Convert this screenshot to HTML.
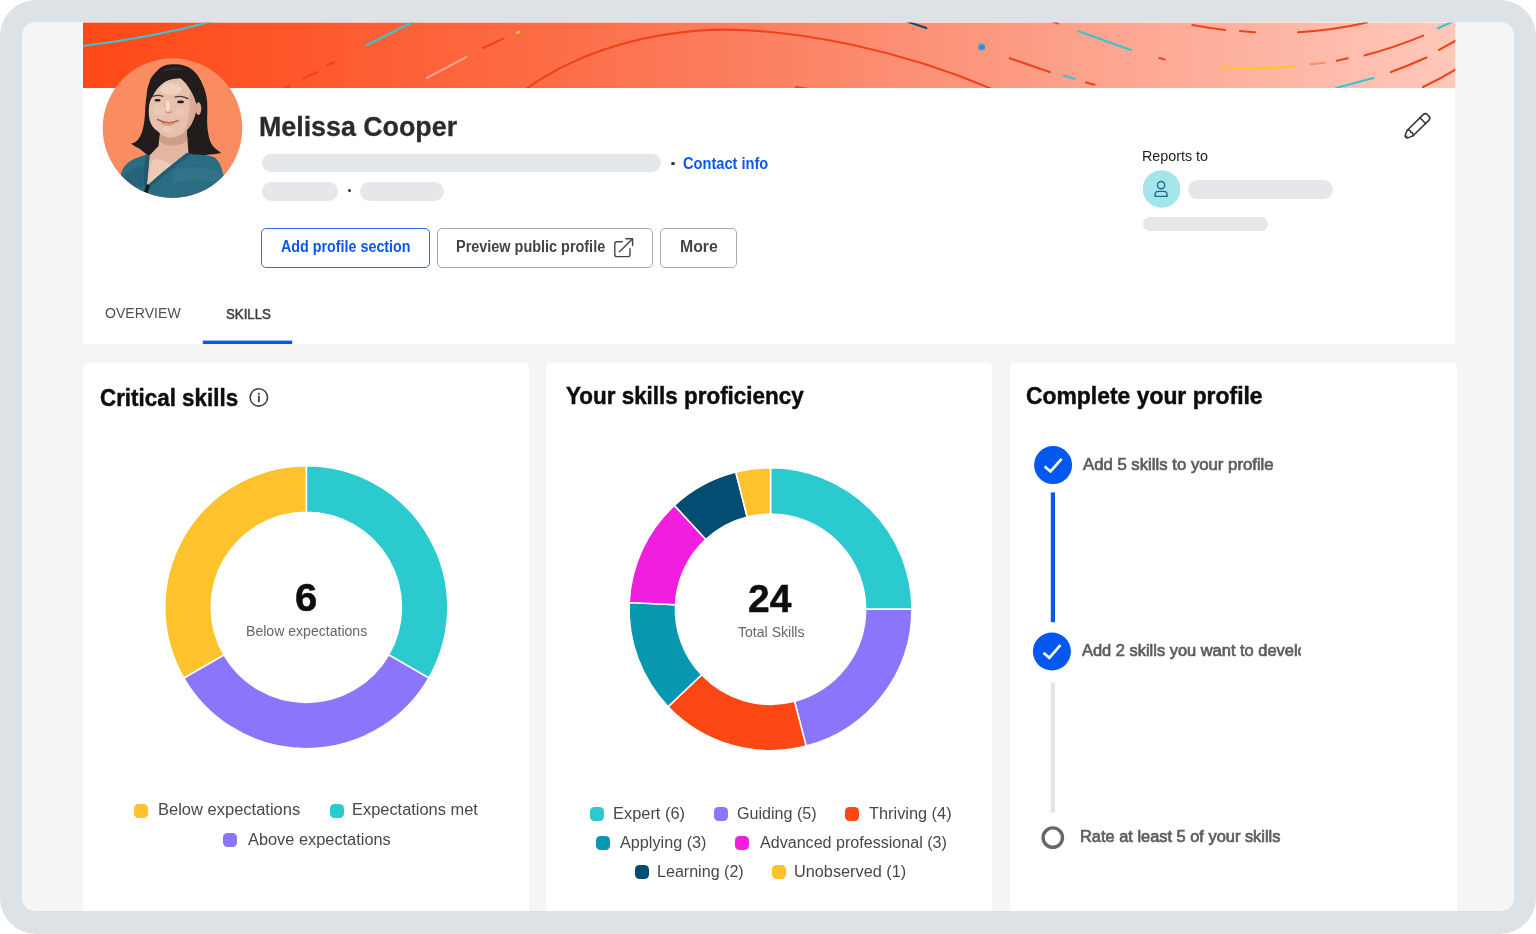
<!DOCTYPE html>
<html lang="en">
<head>
<meta charset="utf-8">
<title>Melissa Cooper – Skills profile</title>
<style>
html,body{margin:0;padding:0;background:#ffffff;}
body{width:1536px;height:934px;position:relative;overflow:hidden;font-family:"Liberation Sans",Arial,sans-serif;}
#frame{position:absolute;left:0;top:0;width:1536px;height:934px;background:#dde2e6;border-radius:36px;}
#screen{position:absolute;left:22px;top:22px;width:1492px;height:889px;background:#f5f5f5;border-radius:13px;overflow:hidden;}
.card{position:absolute;background:#ffffff;}
#head{left:83px;top:22px;width:1372.300px;height:322.300px;border-radius:0 0 4px 4px;}
#c1{left:83px;top:362.900px;width:446.300px;height:560px;border-radius:4.500px;}
#c2{left:546.300px;top:362.900px;width:446.200px;height:560px;border-radius:4.500px;}
#c3{left:1009.500px;top:362.900px;width:447.100px;height:560px;border-radius:4.500px;}
#clip{position:absolute;left:0;top:0;width:1536px;height:911px;overflow:hidden;}
.abs{position:absolute;}
.sk{position:absolute;background:#e6e7ea;border-radius:10px;}
.t{position:absolute;white-space:nowrap;line-height:1;transform-origin:0 0;}
.btn{position:absolute;box-sizing:border-box;top:228px;height:39.5px;border:1px solid #a9a9a9;border-radius:5px;background:transparent;}
.mk{position:absolute;width:14px;height:14px;border-radius:4.5px;}
.dot{position:absolute;width:3px;height:3px;border-radius:50%;background:#333;}
svg{position:absolute;left:0;top:0;overflow:visible;}
</style>
</head>
<body>
<div id="frame"></div>
<div id="screen"></div>
<div id="clip">
<div class="card" id="head"></div>
<div class="card" id="c1"></div>
<div class="card" id="c2"></div>
<div class="card" id="c3"></div>

<!-- banner -->
<svg id="banner" width="1536" height="934" viewBox="0 0 1536 934">
<defs>
<linearGradient id="bg" x1="83" y1="0" x2="1456" y2="0" gradientUnits="userSpaceOnUse">
<stop offset="0" stop-color="#ff4816"/>
<stop offset="0.25" stop-color="#fd6238"/>
<stop offset="0.5" stop-color="#fb8162"/>
<stop offset="0.75" stop-color="#fda590"/>
<stop offset="1" stop-color="#ffc8ba"/>
</linearGradient>
<clipPath id="bclip"><rect x="83" y="22.600" width="1372.300" height="65.400"/></clipPath>
<clipPath id="avclip"><circle cx="172.500" cy="128.100" r="69.800"/></clipPath>
<filter id="soft" x="-5%" y="-5%" width="110%" height="110%"><feGaussianBlur stdDeviation="0.700"/></filter>
</defs>
<rect x="83" y="22.600" width="1372.300" height="65.400" fill="url(#bg)"/>
<g clip-path="url(#bclip)" fill="none" stroke-linecap="round">
<g stroke="#38c4d2" stroke-width="2.1">
<path d="M81,46.3 Q150,38 214,21"/>
<path d="M366.6,45 L413,22"/>
<path d="M1077.9,31 L1131,49.9"/>
<path d="M1063.6,75.4 L1074.5,78.7"/>
<path d="M1438,28.3 L1453,21.5"/>
<path d="M1336,88 L1373.4,78"/>
</g>
<g stroke="#f0431a" stroke-width="2.1">
<path d="M303,78.5 L318,72"/>
<path d="M327,65.3 L334,62.3"/>
<path d="M482.8,48 L503.8,38.4"/>
<path d="M285,88 L290,86"/>
<path d="M526,89 C578,52 650,30 725,29.6 C800,30 900,50 992,89"/>
<path d="M796,87 L806,88.5"/>
<path d="M1009.8,58.2 L1049.6,72.1"/>
<path d="M1086,82.4 L1094.5,84.7"/>
<path d="M1159.5,58 L1164.5,59.5"/>
<path d="M1052,21.5 L1058,23.5"/>
<path d="M1192.4,25 Q1209,28 1225,30"/>
<path d="M1240,31 L1254.8,32.3"/>
<path d="M1298,32.3 Q1335,30 1367,22.5"/>
<path d="M1336.9,60.8 L1347.8,58.2"/>
<path d="M1364.4,55.5 Q1396,47 1423.2,35.6"/>
<path d="M1439,49.9 L1456,40.5"/>
<path d="M1391,72.1 Q1410,65 1426.5,57.5"/>
<path d="M1423,87 Q1442,78 1458,68"/>
</g>
<path d="M426.8,78 L466.3,57" stroke="#ff9f88" stroke-width="2.2"/>
<path d="M1310.3,64.1 L1324.6,62.8" stroke="#ff8f73" stroke-width="2.1"/>
<path d="M517,33 L519.5,31.8" stroke="#ffc42d" stroke-width="2.2"/>
<path d="M1220.6,67.5 Q1258,69.5 1294.7,66.3" stroke="#ffc42d" stroke-width="2.2"/>
<path d="M907,21.5 L926.4,28" stroke="#0a4a6e" stroke-width="2"/>
<circle cx="1169" cy="22.6" r="2" fill="#ffb4a2" stroke="none"/>
<circle cx="981.7" cy="47" r="3.6" fill="#2ba8c8" stroke="none"/>
<circle cx="981.7" cy="47.2" r="1.9" fill="#5b6cf0" stroke="none"/>
</g>

<!-- avatar -->
<circle cx="172.500" cy="128.100" r="69.800" fill="#f98c60"/>
<g clip-path="url(#avclip)" filter="url(#soft)">
<!-- hair back -->
<path d="M174.500,64.300 C166,63.500 160,67 157.400,70.500 C153,74.500 150.500,78 149.700,81.400 C147.500,86 147,91 146.600,95.400 C145.500,102 145.300,108 145,114 C144.500,120 144,125 142.700,129.500 C141.500,134 140,137.500 137.300,140.400 C135.500,142 133.500,143 131,143.500 C133.500,145.500 136,147 138.800,148.200 C141.500,150 144,152 146.600,154.400 L160,162 L193.200,158 L208.700,154.400 C213,154.600 217,154 221.100,152.800 C218,151 215.500,149 213.300,146.600 C211,143.500 209.500,140 208.700,135.700 C207.500,130.500 207.200,125 207.100,120.200 C207.300,114 207.500,108 207.100,101.600 C206.500,95 205,89.500 202.500,84.500 C200.500,79 197.500,74.500 193.200,70.500 C188,66 181.500,64.300 174.500,64.300 Z" fill="#201d1e"/>
<!-- neck and chest -->
<path d="M160.500,128 L186.500,128 L188.500,153 L170,168 L150,187 L146.200,185 L149,156 L158.500,146 Z" fill="#e2b6a2"/>
<path d="M160.500,133 C166,139.500 178,139 186.500,130 L187.500,141 C178,147 167,147 160,142 Z" fill="#cf9d88"/>
<path d="M152,160 C158,158 166,160 172,166 L150,187 L146.200,185 Z" fill="#edc9b8"/>
<!-- shirt -->
<path d="M146.600,154.400 C141,156 136,158 131,160.600 C126.500,163.500 123.500,167 121.700,171.400 L112,205 L236,205 L222.700,173 C221.500,166 219,161 214.900,157.500 C211,155.500 202,154.500 193.200,154.400 L187,152.800 C178,160 160,174 146.800,186 L149.500,156 Z" fill="#2b6d83"/>
<path d="M187,152.800 C178,160 160,174 146.800,186 L148.500,189 C162,177 180,163 191,154.500 Z" fill="#235b6f"/>
<path d="M146.600,154.400 L149.500,156 L146.800,186 L144,186 C143,176 143.500,164 146.600,154.400 Z" fill="#225a6d"/>
<path d="M175,170 C190,166 205,166 219,172 L224,186 C208,178 190,178 172,184 Z" fill="#34798f" opacity="0.550"/>
<path d="M124,176 C130,170 137,166 143,165 L143,186 C136,186 129,188 122,192 Z" fill="#245e73" opacity="0.600"/>
<path d="M146.800,184 L143.800,192.500 L147.600,193 L149.800,185.500 Z" fill="#14151a"/>
<!-- face -->
<path d="M180.700,78.300 C174,78 169,79.500 165.200,81.400 C159.500,85 155.500,90 152.800,95.400 C150.500,99 149.300,102.500 148.900,106.200 C148.500,111 148.800,115.500 149.700,120.200 C151,125 153.500,128.500 157.400,131 C160.500,134 164,136.500 168.300,137.300 C174,137.800 179.500,135.800 183.800,132.600 C188,129.500 191.200,125.500 193.200,120.200 C195,116.500 196,112.500 196.300,107.800 C196.500,105 196.200,103 195.500,101.600 C194.500,97 192.500,93 190,89.200 C187.500,85 184.500,81.500 180.700,78.300 Z" fill="#e8c0ae"/>
<ellipse cx="198.400" cy="108.600" rx="2.900" ry="6.300" fill="#dcab96"/>
<!-- face shading / highlights -->
<path d="M190,89.200 C192.500,93 194.500,97 195.500,101.600 C196.200,103 196.500,105 196.300,107.800 C196,112.500 195,116.500 193.200,120.200 C191.200,125.500 188,129.500 183.800,132.600 C187,125 189.500,116 189.500,106 C189.500,99 189.800,94 190,89.200 Z" fill="#d4a08b" opacity="0.650"/>
<ellipse cx="171" cy="89" rx="11" ry="6" fill="#f4dacd" opacity="0.600"/>
<ellipse cx="159.500" cy="110.500" rx="6" ry="5" fill="#f1d2c4" opacity="0.450"/>
<ellipse cx="180.500" cy="112" rx="5.500" ry="4.500" fill="#f0cfc0" opacity="0.400"/>
<ellipse cx="167.800" cy="106" rx="2" ry="6" fill="#f7e3da" opacity="0.800"/>
<ellipse cx="167.500" cy="129.500" rx="5" ry="3" fill="#f0d0c2" opacity="0.600"/>
<!-- features -->
<ellipse cx="157.600" cy="100.300" rx="3.100" ry="1.300" fill="#2b1e1c"/>
<ellipse cx="180.600" cy="101.900" rx="3.400" ry="1.400" fill="#2b1e1c"/>
<path d="M152.800,96.500 Q157.500,94.300 162.800,96.300" stroke="#4d3832" stroke-width="1.300" fill="none" stroke-linecap="round"/>
<path d="M175,97 Q181,95.100 188,98.600" stroke="#4d3832" stroke-width="1.300" fill="none" stroke-linecap="round"/>
<path d="M165.800,111.600 Q168.300,113.600 171.400,111.800" stroke="#c48f7b" stroke-width="1.200" fill="none" stroke-linecap="round"/>
<path d="M157.600,119.600 Q167,125.200 178,120.800" stroke="#c2604c" stroke-width="1.700" fill="none" stroke-linecap="round"/>
<path d="M161.500,123.200 Q167.500,126.400 174,123.400" stroke="#d98873" stroke-width="1.300" fill="none" stroke-linecap="round"/>
<!-- hair front strands -->
<path d="M180.700,78.300 C174,78 169,79.500 165.200,81.400 C159.500,85 155.500,90 152.800,95.400 C150.500,99 149.300,102.500 148.900,106.200 L147.500,112 C147,100 148,88 153,80 C158,73 166,70 176,71 C184,72 190,76 194,82 C197,87 198,93 198.500,100 L195.500,101.600 C194.500,97 192.500,93 190,89.200 C187.500,85 184.500,81.500 180.700,78.300 Z" fill="#201d1e"/>
<path d="M163,70 C170,66.500 180,66.500 188,70.500 C180,69 170,69 163,72 Z" fill="#3a3536" opacity="0.700"/>
</g>

<!-- tab underline -->
<rect x="202.800" y="340.600" width="89.400" height="3.400" fill="#0557f0"/>

<!-- pencil icon -->
<g transform="translate(1405.400,137.600) rotate(-44.300)" fill="none" stroke="#333333" stroke-width="1.500" stroke-linejoin="round" stroke-linecap="round">
<path d="M0.600,0 Q0.200,-1.200 1.600,-1.900 L6.500,-4 L28.800,-4 Q31.800,-4 31.800,-1 L31.800,1 Q31.800,4 28.800,4 L6.500,4 L1.600,1.900 Q0.200,1.200 0.600,0 Z"/>
<path d="M6.500,-4 Q9.500,-2 7.500,0 Q9.500,2 6.500,4"/>
<path d="M24.300,-4 L24.300,4"/>
<path d="M0.800,-0.800 L2.400,0 L0.800,0.800 Z" fill="#333" stroke-width="1"/>
</g>

<!-- external link icon -->
<g fill="none" stroke="#444444" stroke-width="1.400" stroke-linecap="round" stroke-linejoin="round">
<path d="M622.300,241.800 L617,241.800 Q614.800,241.800 614.800,244 L614.800,254.400 Q614.800,256.600 617,256.600 L627.800,256.600 Q630,256.600 630,254.400 L630,248.600"/>
<path d="M619.400,251.800 L632.400,238.900"/>
<path d="M625.800,238.700 L632.600,238.700 L632.600,245.500"/>
</g>

<!-- reports-to avatar -->
<circle cx="1161.600" cy="189" r="18.800" fill="#a3e5ea"/>
<g fill="none" stroke="#1f6e8c" stroke-width="1.400">
<circle cx="1161.100" cy="185.100" r="3.600"/>
<path d="M1155.100,196.400 L1155.100,194.600 Q1155.100,191.400 1158.300,191.400 L1163.900,191.400 Q1167.100,191.400 1167.100,194.600 L1167.100,196.400 Z" stroke-linejoin="round"/>
</g>

<!-- info icon -->
<circle cx="258.800" cy="397.400" r="8.700" fill="none" stroke="#444444" stroke-width="1.600"/>
<rect x="257.900" y="395.800" width="1.900" height="6.300" fill="#444444"/>
<rect x="257.900" y="392.800" width="1.900" height="1.900" fill="#444444"/>

<!-- donuts -->
<path d="M306.30,465.80 A141.50,141.50 0 0 1 428.84,678.05 L388.66,654.85 A95.10,95.10 0 0 0 306.30,512.20 Z" fill="#2acacf" stroke="#ffffff" stroke-width="1.6"/>
<path d="M428.84,678.05 A141.50,141.50 0 0 1 183.76,678.05 L223.94,654.85 A95.10,95.10 0 0 0 388.66,654.85 Z" fill="#8b76fb" stroke="#ffffff" stroke-width="1.6"/>
<path d="M183.76,678.05 A141.50,141.50 0 0 1 306.30,465.80 L306.30,512.20 A95.10,95.10 0 0 0 223.94,654.85 Z" fill="#fec22d" stroke="#ffffff" stroke-width="1.6"/>
<path d="M770.50,467.70 A141.50,141.50 0 0 1 912.00,609.20 L865.60,609.20 A95.10,95.10 0 0 0 770.50,514.10 Z" fill="#2acacf" stroke="#ffffff" stroke-width="1.6"/>
<path d="M912.00,609.20 A141.50,141.50 0 0 1 806.17,746.13 L794.47,701.23 A95.10,95.10 0 0 0 865.60,609.20 Z" fill="#8b76fb" stroke="#ffffff" stroke-width="1.6"/>
<path d="M806.17,746.13 A141.50,141.50 0 0 1 668.03,706.78 L701.63,674.78 A95.10,95.10 0 0 0 794.47,701.23 Z" fill="#fc4714" stroke="#ffffff" stroke-width="1.6"/>
<path d="M668.03,706.78 A141.50,141.50 0 0 1 629.16,602.53 L675.51,604.72 A95.10,95.10 0 0 0 701.63,674.78 Z" fill="#0798af" stroke="#ffffff" stroke-width="1.6"/>
<path d="M629.16,602.53 A141.50,141.50 0 0 1 674.36,505.38 L705.89,539.42 A95.10,95.10 0 0 0 675.51,604.72 Z" fill="#f01fdf" stroke="#ffffff" stroke-width="1.6"/>
<path d="M674.36,505.38 A141.50,141.50 0 0 1 735.79,472.02 L747.17,517.01 A95.10,95.10 0 0 0 705.89,539.42 Z" fill="#024d71" stroke="#ffffff" stroke-width="1.6"/>
<path d="M735.79,472.02 A141.50,141.50 0 0 1 770.50,467.70 L770.50,514.10 A95.10,95.10 0 0 0 747.17,517.01 Z" fill="#fec22d" stroke="#ffffff" stroke-width="1.6"/>

<!-- stepper -->
<rect x="1050.800" y="492.400" width="4.200" height="129.800" fill="#0b5be0"/>
<rect x="1050.800" y="682.600" width="4.200" height="130.100" fill="#e4e4e4"/>
<circle cx="1053.100" cy="465.100" r="19" fill="#0458f0"/>
<path d="M1044.700,466.400 L1050.500,471.400 L1061.600,458.800" fill="none" stroke="#ffffff" stroke-width="2.700"/>
<circle cx="1051.900" cy="651.500" r="19" fill="#0458f0"/>
<path d="M1043.500,652.800 L1049.300,657.800 L1060.400,645.200" fill="none" stroke="#ffffff" stroke-width="2.700"/>
<circle cx="1052.800" cy="837.600" r="9.700" fill="#ffffff" stroke="#686868" stroke-width="3.400"/>
</svg>

<!-- skeleton bars -->
<div class="sk" style="left:262px;top:153.800px;width:399px;height:18.500px;"></div>
<div class="sk" style="left:262px;top:182px;width:76px;height:18.500px;"></div>
<div class="sk" style="left:360px;top:182px;width:84px;height:18.500px;"></div>
<div class="dot" style="left:348px;top:189.300px;"></div>
<div class="dot" style="left:671.200px;top:162px;background:#3a3a3a;width:3.400px;height:3.400px;"></div>
<div class="sk" style="left:1187.500px;top:179.600px;width:145.700px;height:19px;"></div>
<div class="sk" style="left:1143px;top:217.400px;width:125.300px;height:13.700px;"></div>

<!-- buttons -->
<div class="btn" style="left:260.500px;width:169px;border:1.800px solid #2f6ff2;"></div>
<div class="btn" style="left:437px;width:216px;"></div>
<div class="btn" style="left:660.200px;width:77.200px;"></div>

<!-- legend markers -->
<div class="mk" style="left:134.2px;top:803.8px;background:#fec22d"></div>
<div class="mk" style="left:329.6px;top:803.8px;background:#2acacf"></div>
<div class="mk" style="left:222.8px;top:833.2px;background:#8b76fb"></div>
<div class="mk" style="left:590.4px;top:806.5px;background:#2acacf"></div>
<div class="mk" style="left:713.5px;top:806.5px;background:#8b76fb"></div>
<div class="mk" style="left:844.7px;top:806.5px;background:#fc4714"></div>
<div class="mk" style="left:595.5px;top:835.8px;background:#0798af"></div>
<div class="mk" style="left:735.3px;top:835.8px;background:#f01fdf"></div>
<div class="mk" style="left:634.5px;top:865.1px;background:#024d71"></div>
<div class="mk" style="left:771.9px;top:865.1px;background:#fec22d"></div>

<!-- text -->
<div class="t" id="name" style="left:259.18px;top:113.00px;font-size:27.3px;font-weight:700;color:#2b2b2b;transform:scaleX(0.9817);-webkit-text-stroke:0.3px #2b2b2b;">Melissa Cooper</div>
<div class="t" id="contact" style="left:683.12px;top:156.00px;font-size:16px;font-weight:700;color:#0a58ea;transform:scaleX(0.9130);">Contact info</div>
<div class="t" id="btn1" style="left:280.85px;top:239.00px;font-size:16px;font-weight:700;color:#0a58ea;transform:scaleX(0.8941);">Add profile section</div>
<div class="t" id="btn2" style="left:455.90px;top:239.00px;font-size:16px;font-weight:700;color:#444444;transform:scaleX(0.9020);">Preview public profile</div>
<div class="t" id="btn3" style="left:679.61px;top:239.00px;font-size:16px;font-weight:700;color:#444444;transform:scaleX(0.9878);">More</div>
<div class="t" id="tab1" style="left:104.70px;top:305.00px;font-size:15.2px;font-weight:400;color:#505050;transform:scaleX(0.9276);">OVERVIEW</div>
<div class="t" id="tab2" style="left:226.36px;top:306.00px;font-size:15px;font-weight:400;color:#3c3c3c;transform:scaleX(0.8840);-webkit-text-stroke:0.5px #3c3c3c;">SKILLS</div>
<div class="t" id="reports" style="left:1142.01px;top:148.00px;font-size:15px;font-weight:400;color:#222222;transform:scaleX(0.9546);">Reports to</div>
<div class="t" id="t1" style="left:99.69px;top:386.00px;font-size:23.8px;font-weight:700;color:#0d0d0d;transform:scaleX(0.9404);-webkit-text-stroke:0.45px #0d0d0d;">Critical skills</div>
<div class="t" id="t2" style="left:566.26px;top:384.00px;font-size:23.8px;font-weight:700;color:#0d0d0d;transform:scaleX(0.9425);-webkit-text-stroke:0.45px #0d0d0d;">Your skills proficiency</div>
<div class="t" id="t3" style="left:1026.08px;top:384.00px;font-size:23.8px;font-weight:700;color:#0d0d0d;transform:scaleX(0.9620);-webkit-text-stroke:0.45px #0d0d0d;">Complete your profile</div>
<div class="t" id="n1" style="left:295.43px;top:578.00px;font-size:39.5px;font-weight:700;color:#0d0d0d;transform:scaleX(1.0154);-webkit-text-stroke:0.5px #0d0d0d;">6</div>
<div class="t" id="l1" style="left:245.54px;top:623.00px;font-size:15.2px;font-weight:400;color:#666666;transform:scaleX(0.9264);">Below expectations</div>
<div class="t" id="n2" style="left:748.41px;top:579.00px;font-size:39.5px;font-weight:700;color:#0d0d0d;transform:scaleX(0.9860);-webkit-text-stroke:0.5px #0d0d0d;">24</div>
<div class="t" id="l2" style="left:737.57px;top:624.00px;font-size:15.2px;font-weight:400;color:#666666;transform:scaleX(0.9268);">Total Skills</div>
<div class="t" id="lg1" style="left:157.71px;top:802.00px;font-size:16px;font-weight:400;color:#484848;transform:scaleX(1.0316);">Below expectations</div>
<div class="t" id="lg2" style="left:351.72px;top:802.00px;font-size:16px;font-weight:400;color:#484848;transform:scaleX(1.0255);">Expectations met</div>
<div class="t" id="lg3" style="left:248.20px;top:832.00px;font-size:16px;font-weight:400;color:#484848;transform:scaleX(1.0223);">Above expectations</div>
<div class="t" id="lg4" style="left:613.22px;top:806.00px;font-size:16px;font-weight:400;color:#484848;transform:scaleX(1.0250);">Expert (6)</div>
<div class="t" id="lg5" style="left:736.75px;top:806.00px;font-size:16px;font-weight:400;color:#484848;transform:scaleX(1.0065);">Guiding (5)</div>
<div class="t" id="lg6" style="left:868.54px;top:806.00px;font-size:16px;font-weight:400;color:#484848;transform:scaleX(1.0207);">Thriving (4)</div>
<div class="t" id="lg7" style="left:620.30px;top:835.00px;font-size:16px;font-weight:400;color:#484848;transform:scaleX(1.0130);">Applying (3)</div>
<div class="t" id="lg8" style="left:759.50px;top:835.00px;font-size:16px;font-weight:400;color:#484848;transform:scaleX(1.0054);">Advanced professional (3)</div>
<div class="t" id="lg9" style="left:657.14px;top:864.00px;font-size:16px;font-weight:400;color:#484848;transform:scaleX(1.0048);">Learning (2)</div>
<div class="t" id="lg10" style="left:794.23px;top:864.00px;font-size:16px;font-weight:400;color:#484848;transform:scaleX(1.0176);">Unobserved (1)</div>
<div class="t" id="s1" style="left:1082.61px;top:456.00px;font-size:16.3px;font-weight:400;color:#5e5e5e;transform:scaleX(1.0277);-webkit-text-stroke:0.7px #5e5e5e;">Add 5 skills to your profile</div>
<div class="abs" style="left:1082.30px;top:642.00px;width:218.3px;height:21.2px;overflow:hidden;"><div class="t" id="s2" style="left:0;top:0;font-size:16.3px;font-weight:400;color:#5e5e5e;transform:scaleX(1.0093);-webkit-text-stroke:0.7px #5e5e5e;">Add 2 skills you want to develop</div></div>
<div class="t" id="s3" style="left:1080.29px;top:828.00px;font-size:16.3px;font-weight:400;color:#5e5e5e;transform:scaleX(1.0068);-webkit-text-stroke:0.7px #5e5e5e;">Rate at least 5 of your skills</div>
</div>
</body>
</html>
